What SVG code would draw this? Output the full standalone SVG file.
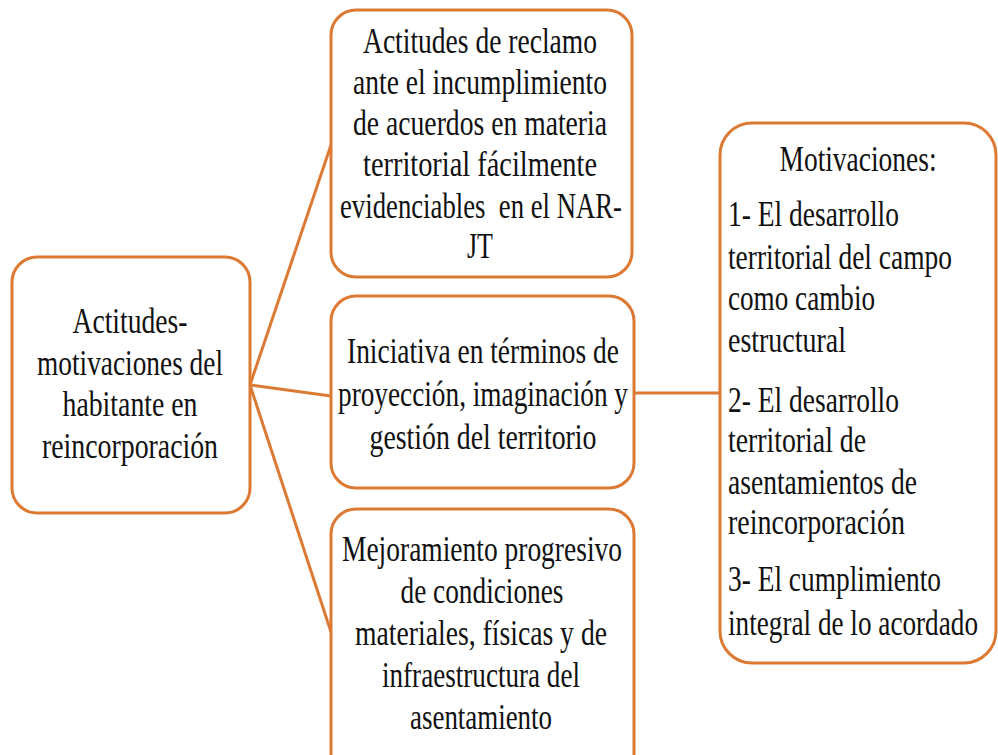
<svg xmlns="http://www.w3.org/2000/svg" width="998" height="755" viewBox="0 0 998 755">
<style>
.box{fill:#fff;stroke:#DC7A34;stroke-width:3}
.con{stroke:#DC7A34;stroke-width:3;fill:none}
text{font-family:"Liberation Serif","Times New Roman",serif;font-size:27px;fill:#111}
.c{text-anchor:middle}
</style>
<rect width="998" height="755" fill="#fff"/>
<g id="connectors">
<line class="con" x1="250" y1="385" x2="331" y2="145"/>
<line class="con" x1="250" y1="385" x2="331" y2="396"/>
<line class="con" x1="250" y1="385" x2="331" y2="632"/>
<line class="con" x1="634" y1="393" x2="720" y2="393"/>
</g>
<g id="root">
<rect class="box" x="12" y="257" width="238" height="256" rx="25"/>
<text class="c" transform="translate(130,333) scale(1,1.3)" textLength="115" lengthAdjust="spacingAndGlyphs">Actitudes-</text>
<text class="c" transform="translate(130,375) scale(1,1.3)" textLength="186" lengthAdjust="spacingAndGlyphs">motivaciones del</text>
<text class="c" transform="translate(130,416) scale(1,1.3)" textLength="135" lengthAdjust="spacingAndGlyphs">habitante en</text>
<text class="c" transform="translate(130,458) scale(1,1.3)" textLength="176" lengthAdjust="spacingAndGlyphs">reincorporación</text>
</g>
<g id="reclamo">
<rect class="box" x="331" y="10" width="301" height="267" rx="25"/>
<text class="c" transform="translate(480,53) scale(1,1.3)" textLength="234" lengthAdjust="spacingAndGlyphs">Actitudes de reclamo</text>
<text class="c" transform="translate(480,94) scale(1,1.3)" textLength="254" lengthAdjust="spacingAndGlyphs">ante el incumplimiento</text>
<text class="c" transform="translate(480,135) scale(1,1.3)" textLength="254" lengthAdjust="spacingAndGlyphs">de acuerdos en materia</text>
<text class="c" transform="translate(480,176) scale(1,1.3)" textLength="234" lengthAdjust="spacingAndGlyphs">territorial fácilmente</text>
<text class="c" transform="translate(481,218) scale(1,1.3)" textLength="282" lengthAdjust="spacingAndGlyphs" xml:space="preserve">evidenciables  en el NAR-</text>
<text class="c" transform="translate(480,258) scale(1,1.3)" textLength="26" lengthAdjust="spacingAndGlyphs">JT</text>
</g>
<g id="iniciativa">
<rect class="box" x="331" y="296" width="303" height="192" rx="25"/>
<text class="c" transform="translate(483,363) scale(1,1.3)" textLength="272" lengthAdjust="spacingAndGlyphs">Iniciativa en términos de</text>
<text class="c" transform="translate(483,406) scale(1,1.3)" textLength="290" lengthAdjust="spacingAndGlyphs">proyección, imaginación y</text>
<text class="c" transform="translate(483,449) scale(1,1.3)" textLength="227" lengthAdjust="spacingAndGlyphs">gestión del territorio</text>
</g>
<g id="mejoramiento">
<rect class="box" x="331" y="509" width="303" height="270" rx="25"/>
<text class="c" transform="translate(482,561) scale(1,1.3)" textLength="280" lengthAdjust="spacingAndGlyphs">Mejoramiento progresivo</text>
<text class="c" transform="translate(482,603) scale(1,1.3)" textLength="163" lengthAdjust="spacingAndGlyphs">de condiciones</text>
<text class="c" transform="translate(481,645) scale(1,1.3)" textLength="252" lengthAdjust="spacingAndGlyphs">materiales, físicas y de</text>
<text class="c" transform="translate(481,687) scale(1,1.3)" textLength="198" lengthAdjust="spacingAndGlyphs">infraestructura del</text>
<text class="c" transform="translate(481,729) scale(1,1.3)" textLength="142" lengthAdjust="spacingAndGlyphs">asentamiento</text>
</g>
<g id="motivaciones">
<rect class="box" x="720" y="123" width="276" height="540" rx="32"/>
<text class="c" transform="translate(858,171) scale(1,1.3)" textLength="157" lengthAdjust="spacingAndGlyphs">Motivaciones:</text>
<text transform="translate(728,226) scale(1,1.3)" textLength="171" lengthAdjust="spacingAndGlyphs">1- El desarrollo</text>
<text transform="translate(728,269) scale(1,1.3)" textLength="224" lengthAdjust="spacingAndGlyphs">territorial del campo</text>
<text transform="translate(728,310) scale(1,1.3)" textLength="147" lengthAdjust="spacingAndGlyphs">como cambio</text>
<text transform="translate(728,352) scale(1,1.3)" textLength="118" lengthAdjust="spacingAndGlyphs">estructural</text>
<text transform="translate(728,412) scale(1,1.3)" textLength="171" lengthAdjust="spacingAndGlyphs">2- El desarrollo</text>
<text transform="translate(728,452) scale(1,1.3)" textLength="138" lengthAdjust="spacingAndGlyphs">territorial de</text>
<text transform="translate(728,494) scale(1,1.3)" textLength="189" lengthAdjust="spacingAndGlyphs">asentamientos de</text>
<text transform="translate(728,534) scale(1,1.3)" textLength="177" lengthAdjust="spacingAndGlyphs">reincorporación</text>
<text transform="translate(728,591) scale(1,1.3)" textLength="213" lengthAdjust="spacingAndGlyphs">3- El cumplimiento</text>
<text transform="translate(728,635) scale(1,1.3)" textLength="250" lengthAdjust="spacingAndGlyphs">integral de lo acordado</text>
</g>
</svg>
